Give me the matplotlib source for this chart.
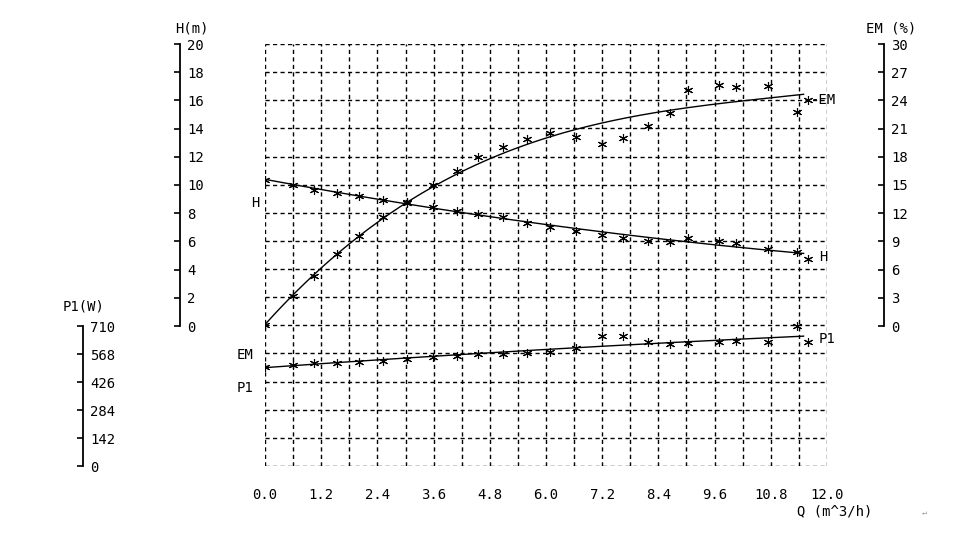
import numpy as np
import matplotlib
matplotlib.use('Agg')
import matplotlib.pyplot as plt

# 流量 Q (m^3/h) 与各测点
q = [0.0, 0.6, 1.05, 1.54, 2.01, 2.52, 3.03, 3.59, 4.10, 4.55, 5.08, 5.59,
     6.09, 6.64, 7.20, 7.64, 8.18, 8.65, 9.03, 9.69, 10.06, 10.74, 11.36, 11.59]
h = [10.35, 10.0, 9.65, 9.43, 9.22, 8.94, 8.72, 8.44, 8.16, 7.94, 7.73, 7.30,
     7.02, 6.74, 6.45, 6.24, 6.03, 5.89, 6.24, 6.03, 5.82, 5.46, 5.18, 4.75]
em = [0.0, 3.1, 5.3, 7.6, 9.5, 11.5, 13.1, 15.0, 16.5, 17.9, 19.0, 19.9,
      20.5, 20.1, 19.3, 20.0, 21.3, 22.6, 25.1, 25.6, 25.4, 25.5, 22.7, 24.0]
p1 = [502, 512, 522, 522, 527, 532, 538, 548, 553, 563, 563, 568,
      573, 598, 654, 654, 624, 614, 619, 624, 629, 624, 705, 624]

q_ticks = [0.0, 1.2, 2.4, 3.6, 4.8, 6.0, 7.2, 8.4, 9.6, 10.8, 12.0]
h_ticks = [0, 2, 4, 6, 8, 10, 12, 14, 16, 18, 20]
em_ticks = [0, 3, 6, 9, 12, 15, 18, 21, 24, 27, 30]
p1_ticks = [0, 142, 284, 426, 568, 710]

W, H = 979, 536
plt.rcParams['font.family'] = ['DejaVu Sans Mono']
FS = 10
plt.rcParams['font.size'] = FS


def box(x0, y0, x1, y1):
  # 像素坐标 -> figure 坐标
  return [x0 / W, 1 - y1 / H, (x1 - x0) / W, (y1 - y0) / H]


fig = plt.figure(figsize=(W / 100, H / 100), dpi=100)

# 主图: 网格 + 曲线
ax = fig.add_axes(box(265, 44, 827, 466))
ax.set_xlim(0, 12)
ax.set_ylim(-10, 20)
for s in ax.spines.values():
  s.set_visible(False)
dash = (0, (3.0, 2.4))
for xv in np.arange(0, 12.01, 0.6):
  ax.axvline(xv, color='black', lw=1.0, ls=dash, zorder=1)
for yv in np.arange(-10, 20.01, 2):
  ax.axhline(yv, color='black', lw=1.0, ls=dash, zorder=1)
ax.set_xticks(q_ticks)
ax.set_xticklabels(['%.1f' % v for v in q_ticks])
ax.tick_params(axis='x', length=0, pad=16)
ax.set_yticks([])

ax_em = ax.twinx()
ax_em.set_ylim(-15, 30)
ax_p1 = ax.twinx()
ax_p1.set_ylim(0, 2130)
for a in (ax_em, ax_p1):
  a.set_yticks([])
  for s in a.spines.values():
    s.set_visible(False)

qq = np.linspace(0, 11.5, 200)
mk = dict(marker=(6, 2, 0), ms=6.5, mew=0.8, color='black', ls='none')
for a, y, deg in ((ax, h, 2), (ax_em, em, 3), (ax_p1, p1, 2)):
  c = np.polyfit(q, y, deg)
  a.plot(qq, np.polyval(c, qq), color='black', lw=1.0)
  a.plot(q, y, **mk)


# 三个刻度轴
def scale_axis(x, y0, y1, lim, ticks):
  sa = fig.add_axes(box(x - 1, y0, x, y1))
  sa.set_ylim(*lim)
  sa.set_xticks([])
  sa.patch.set_visible(False)
  for k in ('left', 'top', 'bottom'):
    sa.spines[k].set_visible(False)
  sa.spines['right'].set_linewidth(1.3)
  sa.yaxis.tick_right()
  sa.set_yticks(ticks)
  sa.tick_params(axis='y', direction='in', length=4, width=1.2, pad=5)
  return sa


scale_axis(180, 44, 326, (0, 20), h_ticks)
scale_axis(884, 44, 326, (0, 30), em_ticks)
scale_axis(83, 326, 466, (0, 710), p1_ticks)


def txt(x, y, s, ha='left', **kw):
  kw.setdefault('fontsize', FS)
  fig.text(x / W, 1 - y / H, s, ha=ha, va='center', **kw)


txt(175, 28, 'H(m)')
txt(866, 28, 'EM (%)')
txt(63, 307, 'P1(W)')
txt(797, 511, 'Q (m^3/h)')
txt(255, 203, 'H', ha='center')
txt(245, 355, 'EM', ha='center')
txt(245, 388, 'P1', ha='center')
txt(811, 100, '-EM')
txt(819, 257, 'H')
txt(819, 339, 'P1')
txt(924, 513, '\u21b5', ha='center', color='#999999', fontsize=6)

fig.savefig('out.png', dpi=100)
